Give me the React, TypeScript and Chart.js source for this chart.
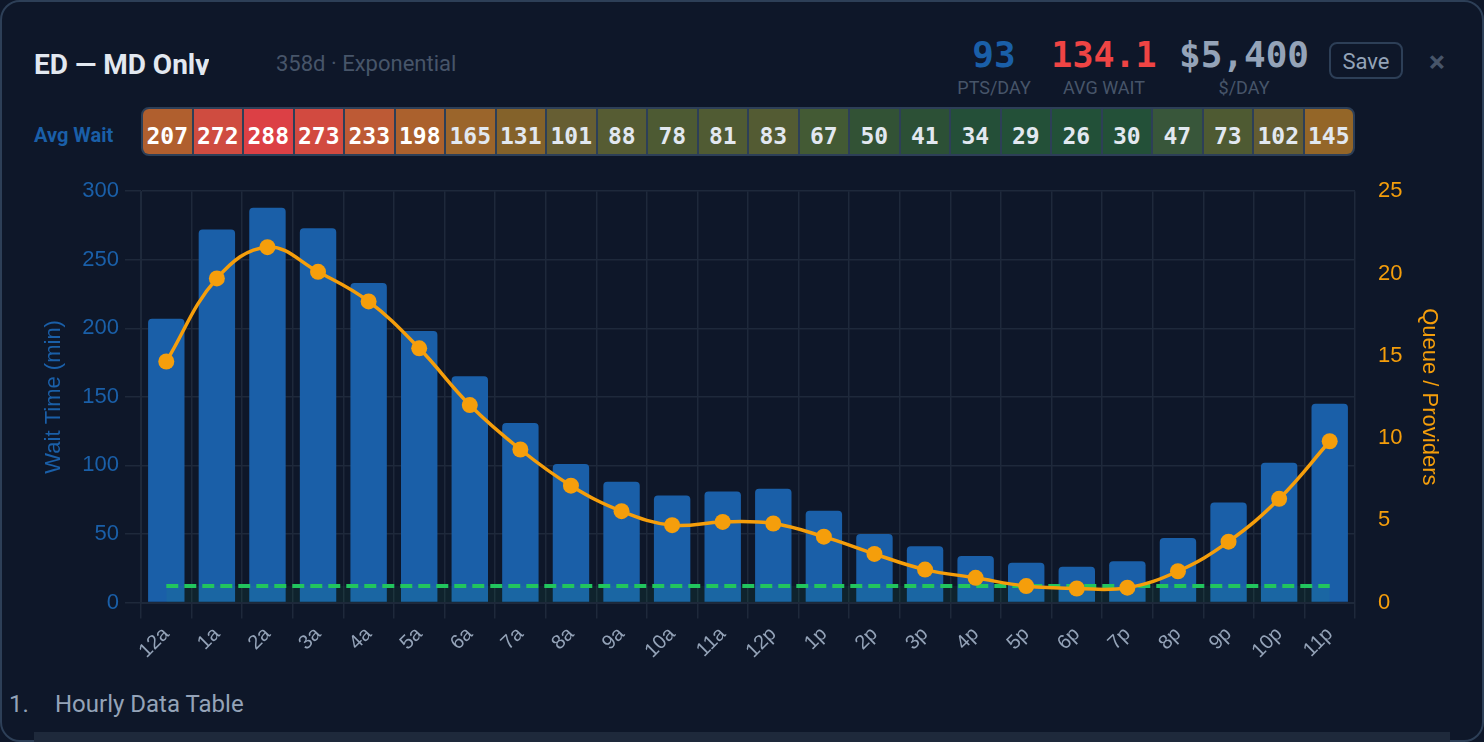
import React, { useEffect, useRef } from "react";
import { Chart, registerables } from "chart.js";

Chart.register(...registerables);

const hours = ["12a","1a","2a","3a","4a","5a","6a","7a","8a","9a","10a","11a","12p","1p","2p","3p","4p","5p","6p","7p","8p","9p","10p","11p"];
const avgWait = [207,272,288,273,233,198,165,131,101,88,78,81,83,67,50,41,34,29,26,30,47,73,102,145];
const queue = [14.65,19.7,21.6,20.1,18.3,15.45,12.0,9.3,7.1,5.55,4.7,4.9,4.8,4.0,2.95,2.0,1.5,1.0,0.85,0.9,1.9,3.7,6.3,9.8];
const providers = [1,1,1,1,1,1,1,1,1,1,1,1,1,1,1,1,1,1,1,1,1,1,1,1];
const cellColors = ["#b05f2e","#cf4c40","#dc4045","#d24a40","#bd5a35","#ab612d","#9b652b","#84622a","#665e33","#565c33","#4d5a33","#505b33","#535b33","#435a34","#325235","#2c5036","#244f38","#235038","#225038","#235038","#38563a","#4e5a32","#635c32","#946628"];

const BG = "#0e1729";
const BLUE = "#1a5fa8";
const ORANGE = "#f59e0b";
const GRID = "#1e293b";
const EDGE = "#2d3f57";
const MONO = '"DejaVu Sans Mono", monospace';

const stat = (left: number, width: number, value: string, color: string, label: string, size: number) => (
  <div key={label} style={{ position: "absolute", left, width, top: 33, textAlign: "center" }}>
    <div style={{ fontFamily: MONO, fontWeight: 700, fontSize: size, lineHeight: "44px", color, whiteSpace: "nowrap" }}>{value}</div>
    <div style={{ fontFamily: "Roboto", fontSize: 18, lineHeight: "22px", color: "#475569" }}>{label}</div>
  </div>
);

export default function App() {
  const ref = useRef<HTMLCanvasElement>(null);
  useEffect(() => {
    const chart = new Chart(ref.current!, {
      data: {
        labels: hours,
        datasets: [
          { type: "line", label: "Queue / Providers", data: queue, yAxisID: "y2", borderColor: ORANGE, backgroundColor: ORANGE, borderWidth: 3.5, pointRadius: 8, pointBackgroundColor: ORANGE, pointBorderWidth: 0, tension: 0.4, fill: false, order: 1 },
          { type: "line", label: "Providers", data: providers, yAxisID: "y2", borderColor: "#22c55e", backgroundColor: "rgba(34,197,94,0.07)", borderWidth: 4, borderDash: [12, 6], pointRadius: 0, fill: "origin", order: 2 },
          { type: "bar", label: "Wait Time", data: avgWait, yAxisID: "y", backgroundColor: BLUE, borderRadius: 4, order: 3 },
        ],
      } as any,
      options: {
        animation: false,
        responsive: false,
        maintainAspectRatio: false,
        layout: { padding: { top: 10 } },
        plugins: { legend: { display: false }, tooltip: { enabled: false } },
        scales: {
          x: {
            afterFit: (s: any) => { s.height = 77.5; },
            grid: { color: GRID, lineWidth: 1.5, tickLength: 16 },
            border: { color: GRID, width: 2 },
            ticks: { color: "#94a3b8", font: { family: "Liberation Sans", size: 20 }, minRotation: 45, maxRotation: 45, padding: 4 },
          },
          y: {
            position: "left", min: 0, max: 300,
            afterFit: (s: any) => { s.width = 107; },
            grid: { color: GRID, lineWidth: 1.5, tickLength: 16 },
            border: { color: GRID },
            ticks: { stepSize: 50, color: BLUE, font: { family: "Liberation Sans", size: 22 }, padding: 6 },
            title: { display: true, text: "Wait Time (min)", color: BLUE, font: { family: "Liberation Sans", size: 22 }, padding: { top: 7, bottom: 0 } },
          },
          y2: {
            position: "right", min: 0, max: 25,
            afterFit: (s: any) => { s.width = 95; },
            grid: { display: false, tickLength: 16 },
            border: { display: false },
            ticks: { stepSize: 5, color: ORANGE, font: { family: "Liberation Sans", size: 22 }, padding: 7 },
            title: { display: true, text: "Queue / Providers", color: ORANGE, font: { family: "Liberation Sans", size: 22 }, padding: { top: 8, bottom: 0 } },
          },
        },
      } as any,
    });
    return () => chart.destroy();
  }, []);

  return (
    <div style={{ position: "absolute", left: 0, top: 0, width: 1484, height: 742, overflow: "hidden", background: BG }}>
      <div style={{ position: "absolute", left: 0, top: 0, width: 1484, height: 742, boxSizing: "border-box", border: `2px solid ${EDGE}`, borderRadius: 20 }} />
      <div style={{ position: "absolute", left: 34, top: 47, height: 28, overflow: "hidden", fontFamily: "Roboto", fontWeight: 700, fontSize: 28, lineHeight: "36px", color: "#e2e8f0", whiteSpace: "nowrap" }}>ED — MD Only</div>
      <div style={{ position: "absolute", left: 276, top: 50, fontFamily: "Roboto", fontSize: 22, lineHeight: "28px", color: "#475569", whiteSpace: "nowrap" }}>358d · Exponential</div>
      {stat(950, 88, "93", BLUE, "PTS/DAY", 36)}
      {stat(1044, 120, "134.1", "#ef4444", "AVG WAIT", 35)}
      {stat(1170, 148, "$5,400", "#94a3b8", "$/DAY", 36)}
      <div style={{ position: "absolute", left: 1329, top: 42, width: 74, height: 37, boxSizing: "border-box", border: `2px solid ${EDGE}`, borderRadius: 8, textAlign: "center", fontFamily: "Roboto", fontSize: 22, lineHeight: "36px", color: "#94a3b8" }}>Save</div>
      <div style={{ position: "absolute", left: 1424, top: 44, width: 26, textAlign: "center", fontFamily: "Roboto", fontWeight: 700, fontSize: 30, lineHeight: "36px", color: "#475569" }}>×</div>

      <div style={{ position: "absolute", left: 34, top: 122, fontFamily: "Roboto", fontWeight: 700, fontSize: 20, lineHeight: "26px", color: BLUE }}>Avg Wait</div>
      <div style={{ position: "absolute", left: 141, top: 107, width: 1214, height: 49, boxSizing: "border-box", border: `2px solid ${EDGE}`, borderRadius: 8, overflow: "hidden", display: "flex", background: EDGE, gap: 2 }}>
        {avgWait.map((v, i) => (
          <div key={i} style={{ flex: 1, background: cellColors[i], textAlign: "center", fontFamily: MONO, fontWeight: 700, fontSize: 23, lineHeight: "54px", color: v >= 198 ? "#ffffff" : "#e2e8f0" }}>{v}</div>
        ))}
      </div>

      <canvas ref={ref} width={1416} height={509} style={{ position: "absolute", left: 34, top: 171, width: 1416, height: 509 }} />

      <div style={{ position: "absolute", left: 9, top: 688, fontFamily: "Roboto", fontSize: 24, lineHeight: "32px", color: "#94a3b8" }}>1.</div>
      <div style={{ position: "absolute", left: 55, top: 688, fontFamily: "Roboto", fontSize: 24, lineHeight: "32px", color: "#94a3b8" }}>Hourly Data Table</div>
      <div style={{ position: "absolute", left: 34, top: 732, width: 1416, height: 10, background: "#1e293b" }} />
    </div>
  );
}
